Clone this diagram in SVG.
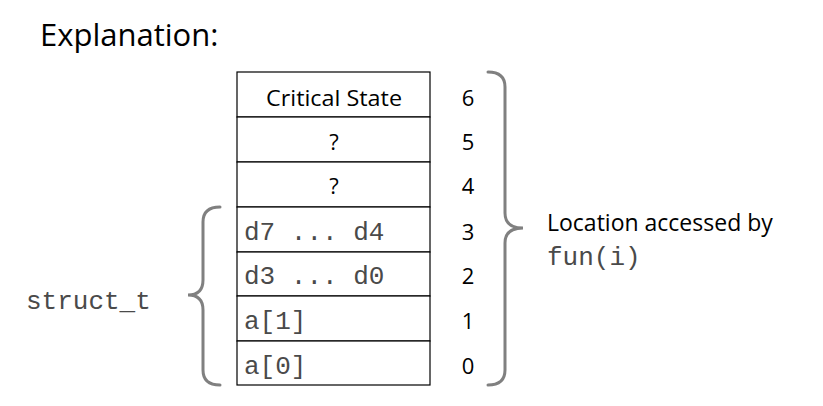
<svg xmlns="http://www.w3.org/2000/svg" width="823" height="406" viewBox="0 0 823 406">
  <style>
    .sans { font-family: "Open Sans", "Noto Sans", "Liberation Sans", sans-serif; fill: #000; }
    .mono { font-family: "Liberation Mono", "DejaVu Sans Mono", monospace; fill: #4a4a4a; font-size: 26px; }
    .cell { fill: #fff; stroke: #000; stroke-width: 1.2; }
    .idx { font-family: "Open Sans", "Noto Sans", sans-serif; font-size: 22px; text-anchor: middle; fill: #000; }
    .brace { fill: none; stroke: #808080; stroke-width: 3; stroke-linecap: round; }
  </style>
  <rect width="823" height="406" fill="#fff"/>

  <text id="title" class="sans" x="40" y="46" font-size="31">Explanation:</text>

  <!-- memory slots, top (6) to bottom (0) -->
  <g id="slot6">
    <rect class="cell" x="237" y="72" width="193" height="45"/>
    <text class="sans" x="334" y="106" font-size="22" text-anchor="middle" textLength="136" lengthAdjust="spacingAndGlyphs">Critical State</text>
    <text class="idx" x="468" y="106">6</text>
  </g>
  <g id="slot5">
    <rect class="cell" x="237" y="117" width="193" height="45"/>
    <text class="sans" x="334" y="150" font-size="22" text-anchor="middle">?</text>
    <text class="idx" x="468" y="150">5</text>
  </g>
  <g id="slot4">
    <rect class="cell" x="237" y="162" width="193" height="45"/>
    <text class="sans" x="334" y="194" font-size="22" text-anchor="middle">?</text>
    <text class="idx" x="468" y="194">4</text>
  </g>
  <g id="slot3">
    <rect class="cell" x="237" y="207" width="193" height="45"/>
    <text class="mono" x="244" y="240" xml:space="preserve">d7 ... d4</text>
    <text class="idx" x="468" y="240">3</text>
  </g>
  <g id="slot2">
    <rect class="cell" x="237" y="252" width="193" height="44"/>
    <text class="mono" x="244" y="284" xml:space="preserve">d3 ... d0</text>
    <text class="idx" x="468" y="284">2</text>
  </g>
  <g id="slot1">
    <rect class="cell" x="237" y="296" width="193" height="45"/>
    <text class="mono" x="244" y="329">a[1]</text>
    <text class="idx" x="468" y="329">1</text>
  </g>
  <g id="slot0">
    <rect class="cell" x="237" y="341" width="193" height="44"/>
    <text class="mono" x="244" y="374">a[0]</text>
    <text class="idx" x="468" y="374">0</text>
  </g>

  <!-- braces -->
  <g id="connectors">
    <path class="brace" d="M220,207 Q203,207 203,222 L203,280 Q203,295 188,295 Q203,295 203,310 L203,370 Q203,385 220,385"/>
    <path class="brace" d="M488,72 Q505,72 505,87 L505,213 Q505,228 523,228 Q505,228 505,243 L505,370 Q505,385 488,385"/>
  </g>

  <g id="struct_label">
    <text class="mono" x="26" y="309">struct_t</text>
  </g>
  <g id="access_label">
    <text class="sans" x="547" y="231" font-size="23">Location accessed by</text>
    <text class="mono" x="547" y="265" font-size="24">fun(i)</text>
  </g>
</svg>
